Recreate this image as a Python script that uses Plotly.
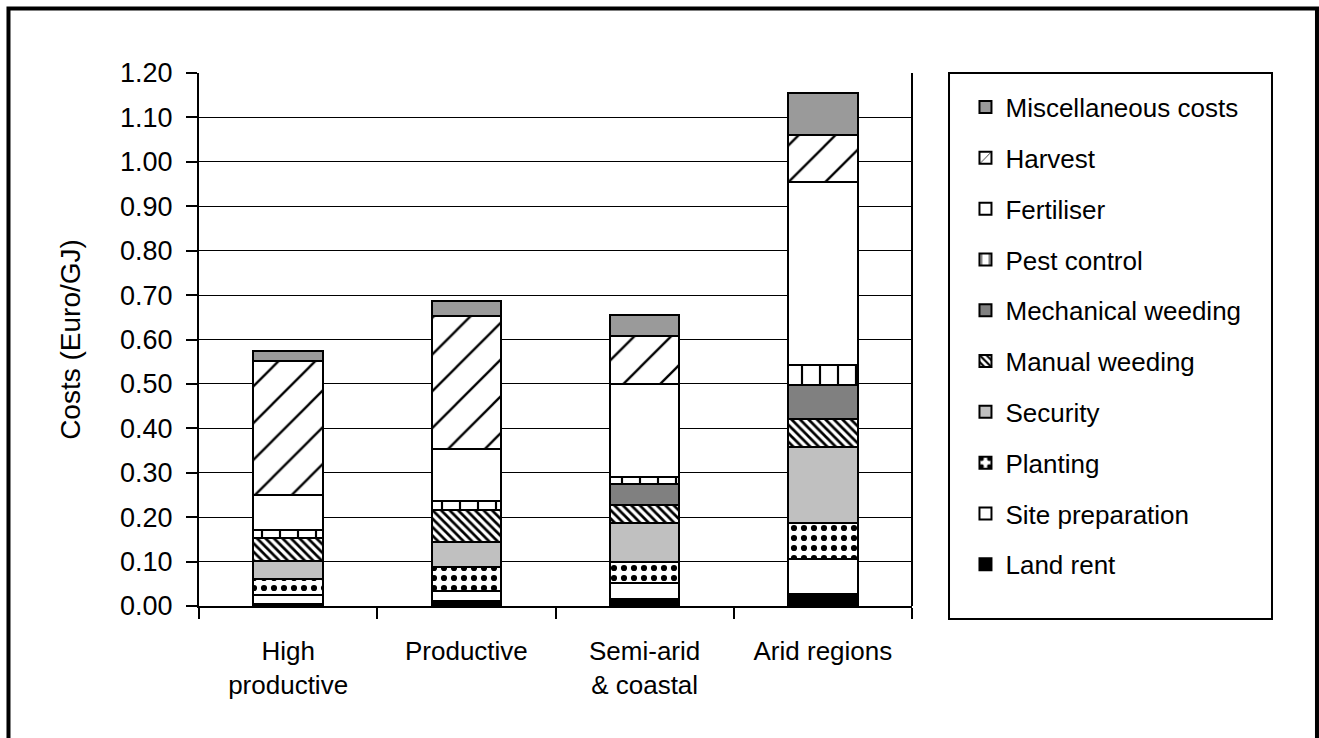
import plotly.graph_objects as go

# Cost categories and regions
regions = ["High<br>productive", "Productive", "Semi-arid<br>& coastal", "Arid regions"]

land_rent = [0.005, 0.011, 0.015, 0.027]
site_preparation = [0.019, 0.023, 0.037, 0.078]
planting = [0.036, 0.053, 0.047, 0.082]
security = [0.042, 0.058, 0.088, 0.171]
manual_weeding = [0.052, 0.071, 0.041, 0.062]
mechanical_weeding = [None, None, 0.046, 0.078]
pest_control = [0.016, 0.020, 0.016, 0.044]
fertiliser = [0.080, 0.118, 0.210, 0.412]
harvest = [0.301, 0.300, 0.107, 0.107]
misc_costs = [0.024, 0.033, 0.048, 0.095]

y_ticks = [round(i * 0.1, 2) for i in range(13)]

FONT = "Liberation Sans, Arial, sans-serif"


def hatch(shape, size, solidity):
    return dict(shape=shape, fgcolor="#000000", bgcolor="#ffffff",
                fgopacity=1, size=size, solidity=solidity, fillmode="replace")


series = [
    ("Land rent", land_rent, dict(color="#000000")),
    ("Site preparation", site_preparation, dict(color="#ffffff")),
    ("Planting", planting, dict(color="#ffffff", pattern=hatch(".", 10, 0.3))),
    ("Security", security, dict(color="#c0c0c0")),
    ("Manual weeding", manual_weeding, dict(color="#ffffff", pattern=hatch("\\", 6, 0.45))),
    ("Mechanical weeding", mechanical_weeding, dict(color="#808080")),
    ("Pest control", pest_control, dict(color="#ffffff", pattern=hatch("|", 18, 0.12))),
    ("Fertiliser", fertiliser, dict(color="#ffffff")),
    ("Harvest", harvest, dict(color="#ffffff", pattern=hatch("/", 26, 0.09))),
    ("Miscellaneous costs", misc_costs, dict(color="#9a9a9a")),
]

fig = go.Figure()
for i, (name, vals, marker) in enumerate(series):
    fig.add_trace(go.Bar(
        x=regions, y=vals, name=name, legendgroup=name,
        legendrank=len(series) - i,
        width=0.39,
        marker=dict(line=dict(color="#000000", width=2), **marker),
    ))

fig.update_layout(
    width=1319, height=738,
    barmode="stack",
    paper_bgcolor="#ffffff", plot_bgcolor="#ffffff",
    margin=dict(l=199, r=407, t=73, b=132),
    font=dict(family=FONT, size=26, color="#000000"),
    showlegend=True,
    legend=dict(
        x=1.075, xanchor="left", y=0.98, yanchor="top",
        traceorder="grouped", tracegroupgap=14,
        font=dict(family=FONT, size=26, color="#000000"),
        bgcolor="rgba(0,0,0,0)", borderwidth=0,
    ),
)

fig.update_yaxes(
    range=[0, 1.2], tickvals=y_ticks, tickformat=".2f",
    showgrid=True, gridcolor="#000000", gridwidth=1,
    showline=True, linecolor="#000000", linewidth=2,
    ticks="outside", ticklen=11, tickwidth=2, tickcolor="#000000",
    ticklabelstandoff=8,
    tickfont=dict(family=FONT, size=27),
    title=dict(text="Costs (Euro/GJ)", font=dict(family=FONT, size=28), standoff=31),
    zeroline=False,
)
fig.update_xaxes(
    range=[-0.5, 3.5],
    showline=True, linecolor="#000000", linewidth=2, mirror=False,
    ticks="outside", ticklen=11, tickwidth=2, tickcolor="#000000",
    tickson="boundaries", ticklabelstandoff=21,
    tickfont=dict(family=FONT, size=26),
)

# Right edge of the plot area
fig.add_shape(type="line", xref="paper", yref="paper", x0=1, x1=1, y0=0, y1=1,
              line=dict(color="#000000", width=2))
# Legend frame
fig.add_shape(type="rect", xref="paper", yref="paper",
              x0=1.0519, x1=1.5049, y0=-0.0244, y1=1.0,
              line=dict(color="#000000", width=2), fillcolor="rgba(0,0,0,0)")
# Outer frame
fig.add_shape(type="rect", xref="paper", yref="paper",
              x0=-0.2672, x1=1.5680, y0=-0.27, y1=1.1210,
              line=dict(color="#000000", width=4), fillcolor="rgba(0,0,0,0)")

fig.write_html("out.html")
